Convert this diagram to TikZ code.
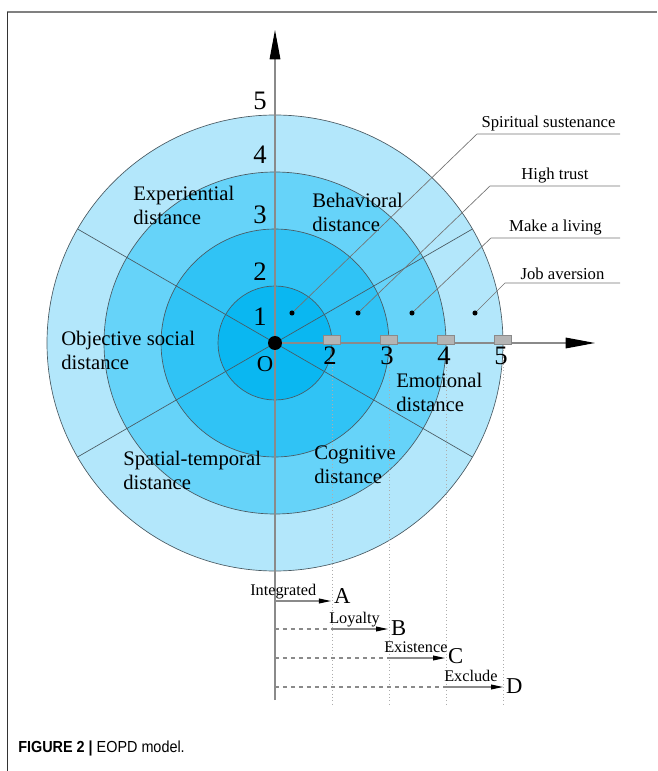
\documentclass[tikz,border=0pt]{standalone}
\usepackage{fontspec}
\setmainfont{Liberation Serif}
\newfontfamily\capfont[FakeStretch=0.9]{Liberation Sans}
\usetikzlibrary{positioning, arrows.meta}
\definecolor{ringone}{HTML}{0AB7F1}
\definecolor{ringtwo}{HTML}{30C3F5}
\definecolor{ringthree}{HTML}{66D3F9}
\definecolor{ringfour}{HTML}{B3E7FB}
\definecolor{edgegray}{HTML}{4A5A62}
\definecolor{axisgray}{HTML}{8A8A8A}
\definecolor{tickgray}{HTML}{B4B4B4}

\tikzset{
  ring/.style={draw=edgegray, line width=0.5pt},
  axis/.style={draw=axisgray, line width=0.8pt, -{Triangle[length=22pt, width=8pt, color=black]}},
  tick/.style={draw=axisgray, fill=tickgray, line width=0.4pt},
  guide/.style={draw=axisgray!70, line width=0.5pt, dotted},
  leader/.style={draw=gray!90!black, line width=0.5pt},
  dot/.style={circle, fill=black, inner sep=0pt, minimum size=3.8pt},
  axisnum/.style={font=\fontsize{20}{24}\selectfont, inner sep=0pt},
  sector/.style={font=\fontsize{15.5}{18}\selectfont, align=left, anchor=west, inner sep=0pt},
  tag/.style={font=\fontsize{12.5}{14}\selectfont, inner sep=2pt},
  stage/.style={draw=axisgray, line width=0.8pt, -{Triangle[length=9pt, width=3.6pt, color=black]}},
  lead/.style={draw=axisgray, line width=0.8pt, dashed},
  stagetag/.style={font=\fontsize{12.2}{14}\selectfont, anchor=base west, inner sep=0pt},
  grade/.style={font=\fontsize{17}{20}\selectfont, anchor=base west, inner sep=0pt, xshift=2pt, yshift=-5pt}
}

\begin{document}
\begin{tikzpicture}[x=0.75pt, y=0.75pt]
  \useasboundingbox (-275,-428) rectangle (382,343);

  % frame
  \draw[gray, line width=1.5pt] (-268,331) -- (382,331);
  \draw[black!80, line width=0.7pt] (-268,331) -- (-268,-428);

  % rings, outermost first
  \coordinate (O) at (0,0);
  \foreach \r/\c in {228/ringfour, 171/ringthree, 114/ringtwo, 57/ringone}
    \filldraw[ring, fill=\c] (O) circle (\r);
  \foreach \a in {30,150,210,330}
    \draw[ring] (O) -- (\a:228);

  % sector names
  \node[sector] at (-142,138) {Experiential\\distance};
  \node[sector] at (37,131) {Behavioral\\distance};
  \node[sector] at (-214,-7) {Objective social\\distance};
  \node[sector] at (121,-49) {Emotional\\distance};
  \node[sector] at (-152,-127) {Spatial-temporal\\distance};
  \node[sector] at (39,-122) {Cognitive\\distance};

  % guides down to the stages
  \foreach \x in {57,114,171,228}
    \draw[guide] (\x,-4) -- (\x,-362);

  % axes
  \coordinate (ybot) at (0,-357);
  \coordinate (ytop) at (0,313);
  \coordinate (xend) at (320,0);
  \draw[axis] (ybot) -- (ytop);
  \draw[axis] (O) -- (xend);
  \node[circle, fill=black, inner sep=0pt, minimum size=10.5pt] (centre) at (O) {};
  \node[font=\fontsize{17}{20}\selectfont, inner sep=0pt] at (-10,-21) {O};

  \foreach \y/\n in {26/1,71/2,128/3,188/4,242/5}
    \node[axisnum] at (-15,\y) {\n};
  \foreach \x/\n in {57/2,114/3,171/4,228/5} {
    \draw[tick] (\x-8.5,-1) rectangle (\x+8.5,8);
    \node[axisnum] at (\x-2,-13) {\n};
  }

  % points and their callouts
  \node[dot] (p1) at (17,30) {};
  \node[dot] (p2) at (83,30) {};
  \node[dot] (p3) at (137,30) {};
  \node[dot] (p4) at (200,30) {};
  \coordinate (k1) at (202,209);  \coordinate (e1) at (345,209);
  \coordinate (k2) at (215,157);  \coordinate (e2) at (345,157);
  \coordinate (k3) at (216,105);  \coordinate (e3) at (345,105);
  \coordinate (k4) at (230,60);   \coordinate (e4) at (345,60);
  \draw[leader] (p1) -- (k1) -- (e1) node[tag, midway, above] {Spiritual sustenance};
  \draw[leader] (p2) -- (k2) -- (e2) node[tag, midway, above] {High trust};
  \draw[leader] (p3) -- (k3) -- (e3) node[tag, midway, above] {Make a living};
  \draw[leader] (p4) -- (k4) -- (e4) node[tag, midway, above] {Job aversion};

  % stages
  \coordinate (a0) at (0,-258);   \coordinate (a1) at (56,-258);
  \coordinate (b0) at (0,-286);   \coordinate (b1) at (57,-286);   \coordinate (b2) at (113,-286);
  \coordinate (c0) at (0,-315);   \coordinate (c1) at (114,-315);  \coordinate (c2) at (170,-315);
  \coordinate (d0) at (0,-344);   \coordinate (d1) at (171,-344);  \coordinate (d2) at (228,-344);
  \draw[stage] (a0) -- (a1) node[grade, yshift=3.5pt] {A};
  \draw[lead] (b0) -- (b1);
  \draw[stage] (b1) -- (b2) node[grade] {B};
  \draw[lead] (c0) -- (c1);
  \draw[stage] (c1) -- (c2) node[grade, yshift=1pt] {C};
  \draw[lead] (d0) -- (d1);
  \draw[stage] (d1) -- (d2) node[grade] {D};
  \node[stagetag] at (-25,-252) {Integrated};
  \node[stagetag] at (54,-280) {Loyalty};
  \node[stagetag] at (109,-309) {Existence};
  \node[stagetag] at (169,-338) {Exclude};

  % caption
  \node[anchor=base west, inner sep=0pt, font=\capfont\fontsize{12}{14}\selectfont]
    at (-257,-409) {\textbf{FIGURE 2 |} EOPD model.};
\end{tikzpicture}
\end{document}
